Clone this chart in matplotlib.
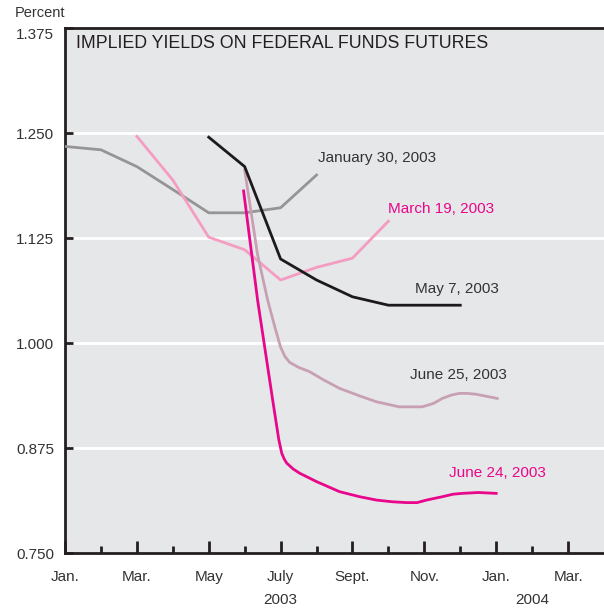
import numpy as np
import matplotlib
matplotlib.use('Agg')
import matplotlib.pyplot as plt

plt.rcParams['font.family'] = ['Liberation Sans', 'DejaVu Sans']

# months counted from Jan. 2003 (0 = Jan. 2003)
jan30_x = [0, 1, 2, 3.1, 4, 5, 6, 7]
jan30_y = [1.234, 1.230, 1.210, 1.180, 1.155, 1.155, 1.161, 1.200]

mar19_x = [2, 3, 4, 5, 6, 7, 8, 9]
mar19_y = [1.246, 1.194, 1.126, 1.111, 1.075, 1.090, 1.101, 1.145]

may7_x = [4, 5, 6, 7, 8, 9, 10, 11]
may7_y = [1.245, 1.210, 1.100, 1.075, 1.055, 1.045, 1.045, 1.045]

jun25_x = [5.0, 5.36, 5.64, 5.86, 6.0, 6.12, 6.25, 6.5, 6.8, 7.2, 7.64, 8.2, 8.67, 9.3, 9.94,
           10.25, 10.5, 10.75, 10.97, 11.2, 11.44, 12.03]
jun25_y = [1.206, 1.105, 1.051, 1.016, 0.995, 0.984, 0.977, 0.971, 0.966, 0.956, 0.946, 0.937,
           0.930, 0.924, 0.924, 0.928, 0.934, 0.938, 0.940, 0.940, 0.939, 0.934]

jun24_x = [4.97, 5.36, 5.78, 5.95, 6.03, 6.1, 6.17, 6.35, 6.53, 7.0, 7.64, 8.2, 8.67, 9.1, 9.5,
           9.8, 10.06, 10.5, 10.8, 11.06, 11.5, 12.0]
jun24_y = [1.181, 1.051, 0.932, 0.885, 0.869, 0.862, 0.857, 0.850, 0.845, 0.835, 0.823, 0.817,
           0.813, 0.811, 0.810, 0.810, 0.813, 0.817, 0.820, 0.821, 0.822, 0.821]

yticks = [0.750, 0.875, 1.000, 1.125, 1.250, 1.375]
xtick_pos = [0, 2, 4, 6, 8, 10, 12, 14]
xtick_lab = ['Jan.', 'Mar.', 'May', 'July', 'Sept.', 'Nov.', 'Jan.', 'Mar.']

fig = plt.figure(figsize=(6.04, 6.11), dpi=100)
ax = fig.add_axes([65/604, 1-553/611, 1-65/604, (553-28)/611])
ax.set_facecolor('#e6e7e9')

# white grid
for v in yticks[1:-1]:
    ax.axhline(v, color='white', lw=2, zorder=1)

lw = 2.0
ax.plot(jan30_x, jan30_y, color='#959595', lw=lw, zorder=3)
ax.plot(mar19_x, mar19_y, color='#f59cc2', lw=lw, zorder=3)
ax.plot(may7_x, may7_y, color='#1c1a1b', lw=lw, zorder=4)
ax.plot(jun25_x, jun25_y, color='#c8a0b3', lw=lw, zorder=3)
ax.plot(jun24_x, jun24_y, color='#e8068a', lw=lw, zorder=5)

ax.set_xlim(0, 15)
ax.set_ylim(0.75, 1.375)

for s in ['left', 'bottom', 'top']:
    ax.spines[s].set_color('#231f20')
    ax.spines[s].set_linewidth(2)
ax.spines['right'].set_visible(False)

ax.set_yticks(yticks)
ax.set_yticklabels(['%.3f' % v for v in yticks])
ax.get_yticklabels()[-1].set_va('top')
ax.tick_params(axis='y', direction='in', length=6, width=2, color='#231f20',
               labelsize=11, labelcolor='#333333', pad=8)
ax.set_xticks(xtick_pos)
ax.set_xticklabels(xtick_lab)
ax.set_xticks(np.arange(1, 15, 2), minor=True)
ax.tick_params(axis='x', which='major', direction='in', length=9, width=2, color='#231f20',
               labelsize=11, labelcolor='#333333', pad=12)
ax.tick_params(axis='x', which='minor', direction='in', length=5, width=2, color='#231f20')

# year labels
ax.text(6, -0.09, '2003', transform=ax.get_xaxis_transform(), ha='center', va='center',
        fontsize=11, color='#333333')
ax.text(13, -0.09, '2004', transform=ax.get_xaxis_transform(), ha='center', va='center',
        fontsize=11, color='#333333')

fig.text(15/604, 1-13/611, 'Percent', ha='left', va='center', fontsize=10.5, color='#333333')

ax.text((76-65)/539, 1-(44-28)/525, 'IMPLIED YIELDS ON FEDERAL FUNDS FUTURES',
        transform=ax.transAxes, ha='left', va='center', fontsize=12.8, color='#231f20')

# series labels
ax.text(7.05, 1.220, 'January 30, 2003', ha='left', va='center', fontsize=11, color='#333333')
ax.text(9.0, 1.160, 'March 19, 2003', ha='left', va='center', fontsize=11, color='#e8068a')
ax.text(9.75, 1.064, 'May 7, 2003', ha='left', va='center', fontsize=11, color='#333333')
ax.text(9.6, 0.962, 'June 25, 2003', ha='left', va='center', fontsize=11, color='#333333')
ax.text(10.7, 0.845, 'June 24, 2003', ha='left', va='center', fontsize=11, color='#e8068a')

fig.savefig('out.png', dpi=100)
